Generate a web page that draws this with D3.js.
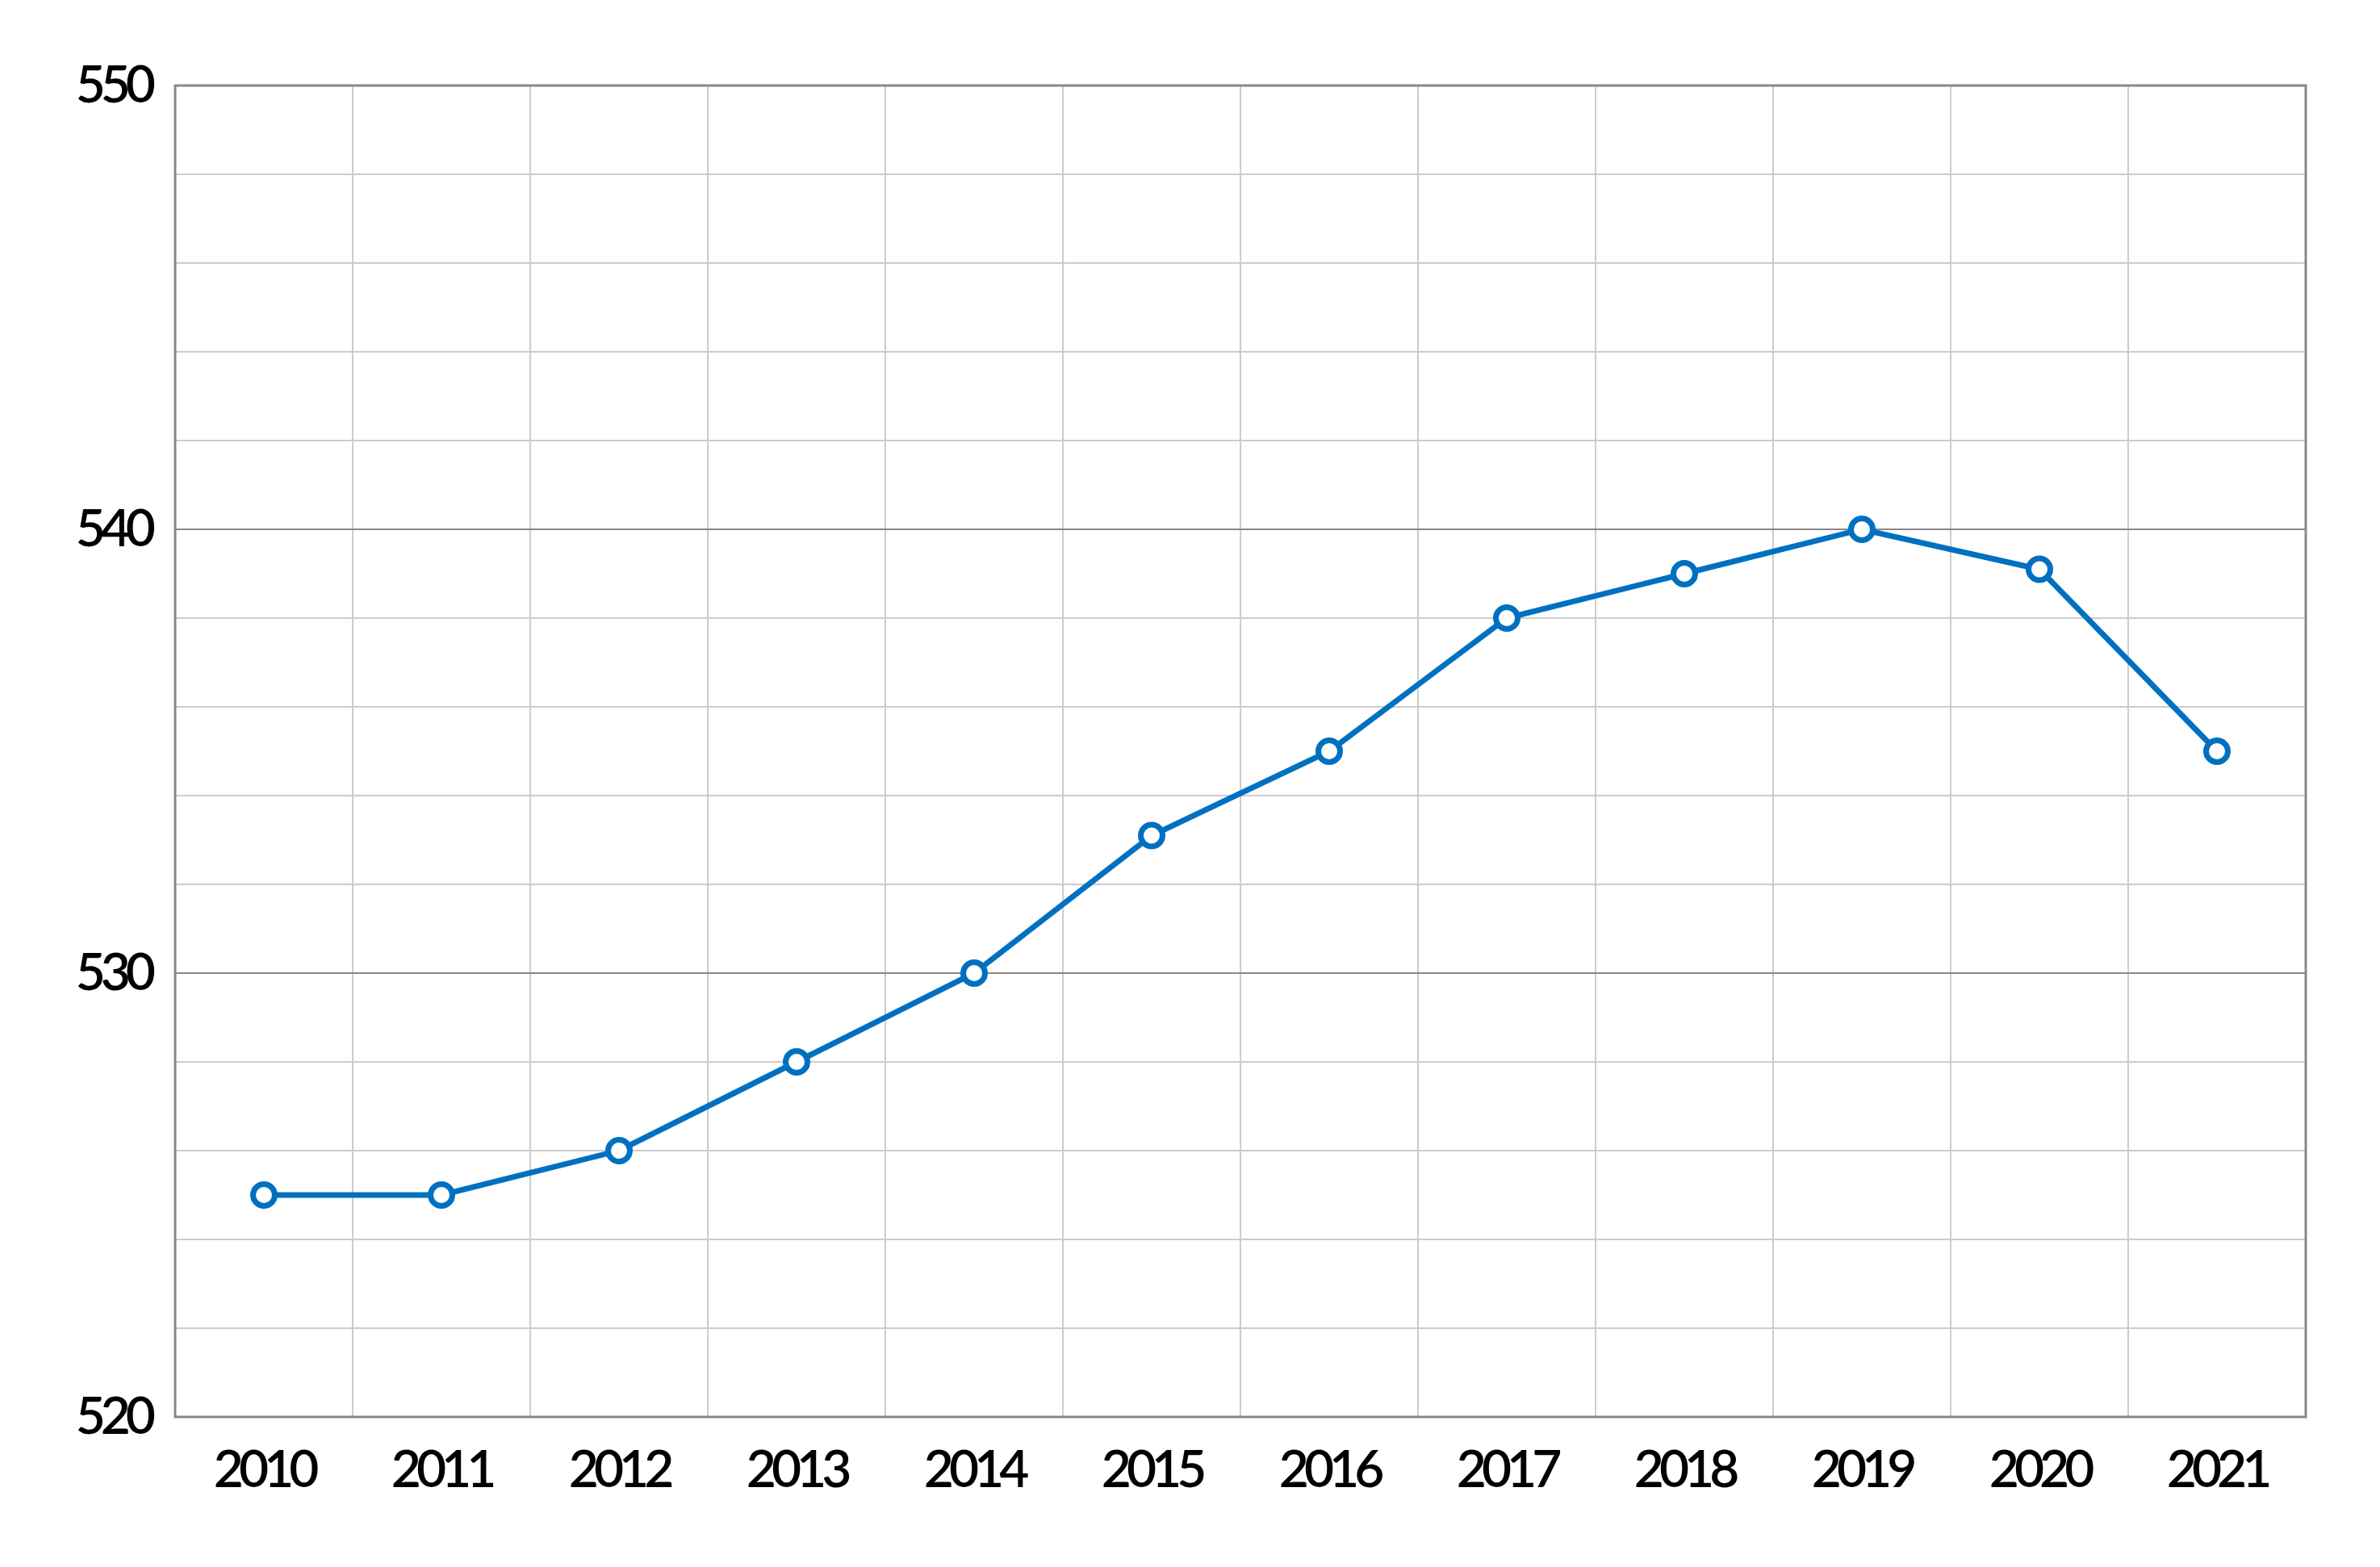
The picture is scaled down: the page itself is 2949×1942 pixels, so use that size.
<!DOCTYPE html>
<meta charset="utf-8">
<body style="margin:0;background:#fff">
<script src="https://cdn.jsdelivr.net/npm/d3@7"></script>
<script>
// data
var years = ["2010","2011","2012","2013","2014","2015","2016","2017","2018","2019","2020","2021"];
var values = [525, 525, 526, 528, 530, 533.1, 535, 538, 539, 540, 539.1, 535];
var yLabels = [520, 530, 540, 550];

var W = 2949, H = 1942;
var margin = {top: 106, right: 92, bottom: 186, left: 217},
    width = W - margin.left - margin.right,
    height = H - margin.top - margin.bottom;

var x = d3.scaleBand().domain(years).range([0, width]).padding(0);
var y = d3.scaleLinear().domain([520, 550]).range([height, 0]);

var svg = d3.select("body").append("svg")
    .attr("width", W)
    .attr("height", H)
  .append("g")
    .attr("transform", "translate(" + margin.left + "," + margin.top + ")");

// minor horizontal grid every 2
svg.append("g").selectAll("line")
    .data(d3.range(520, 551, 2).filter(function(v){ return v % 10 != 0; }))
  .enter().append("line")
    .attr("x1", 0).attr("x2", width)
    .attr("y1", function(d){ return y(d); }).attr("y2", function(d){ return y(d); })
    .attr("stroke", "#cccccc").attr("stroke-width", 2);

// vertical grid at band edges
svg.append("g").selectAll("line")
    .data(years.slice(1))
  .enter().append("line")
    .attr("x1", function(d){ return x(d); }).attr("x2", function(d){ return x(d); })
    .attr("y1", 0).attr("y2", height)
    .attr("stroke", "#cccccc").attr("stroke-width", 2);

// major horizontal grid
svg.append("g").selectAll("line")
    .data([530, 540])
  .enter().append("line")
    .attr("x1", 0).attr("x2", width)
    .attr("y1", function(d){ return y(d); }).attr("y2", function(d){ return y(d); })
    .attr("stroke", "#888888").attr("stroke-width", 2);

// frame
svg.append("rect")
    .attr("x", 0).attr("y", 0).attr("width", width).attr("height", height)
    .attr("fill", "none").attr("stroke", "#888888").attr("stroke-width", 3);

// axes (labels only)
var yAxis = svg.append("g")
    .call(d3.axisLeft(y).tickValues(yLabels).tickSize(0).tickPadding(30).tickFormat(d3.format("d")));
yAxis.select(".domain").remove();

var xAxis = svg.append("g")
    .attr("transform", "translate(0," + height + ")")
    .call(d3.axisBottom(x).tickSize(0).tickPadding(42));
xAxis.select(".domain").remove();

svg.selectAll(".tick text")
    .style("font-family", "Lato, 'Open Sans', sans-serif")
    .style("font-size", "64px")
    .style("font-weight", "600")
    .style("letter-spacing", "-6px")
    .attr("fill", "#000");

// line
var line = d3.line()
    .x(function(d, i){ return x(years[i]) + x.bandwidth() / 2; })
    .y(function(d){ return y(d); });

svg.append("path")
    .datum(values)
    .attr("d", line)
    .attr("fill", "none")
    .attr("stroke", "#0070c0")
    .attr("stroke-width", 7);

svg.selectAll(".dot")
    .data(values)
  .enter().append("circle")
    .attr("class", "dot")
    .attr("cx", function(d, i){ return x(years[i]) + x.bandwidth() / 2; })
    .attr("cy", function(d){ return y(d); })
    .attr("r", 13.5)
    .attr("fill", "#fff")
    .attr("stroke", "#0070c0")
    .attr("stroke-width", 7);
</script>
</body>
